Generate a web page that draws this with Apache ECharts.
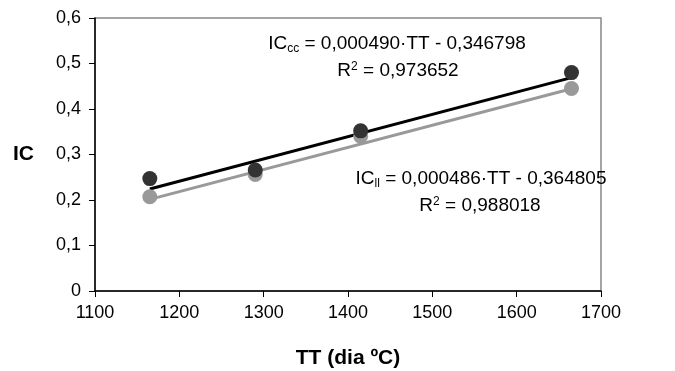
<!DOCTYPE html>
<html>
<head>
<meta charset="utf-8">
<script src="https://cdn.jsdelivr.net/npm/echarts@6/dist/echarts.min.js"></script>
<style>
  html, body { margin: 0; padding: 0; background: #fff; }
  #chart { width: 675px; height: 371px; }
</style>
</head>
<body>
<div id="chart"></div>
<script>
// measured points (TT in dia ºC, IC)
const ttValues = [1165, 1290, 1415, 1665];
const icCC = [0.247, 0.266, 0.352, 0.480];
const icLL = [0.207, 0.256, 0.340, 0.445];

// trend line coefficients as printed on the chart
const fitCC = { slope: 0.000490, intercept: -0.346798, r2: '0,973652' };
const fitLL = { slope: 0.000486, intercept: -0.364805, r2: '0,988018' };

const xTicks = { min: 1100, max: 1700, step: 100 };
const yTicks = { min: 0, max: 0.6, step: 0.1 };

const font = 'Liberation Sans, Arial, sans-serif';

function trend(fit) {
  const x0 = Math.min(...ttValues), x1 = Math.max(...ttValues);
  return [[x0, fit.slope * x0 + fit.intercept], [x1, fit.slope * x1 + fit.intercept]];
}

const chart = echarts.init(document.getElementById('chart'));

const eqRich = {
  n: { fontSize: 19, fontFamily: font, color: '#000' },
  sub: { fontSize: 12, fontFamily: font, color: '#000', padding: [10, 0, 0, 0] },
  sup: { fontSize: 12, fontFamily: font, color: '#000', padding: [0, 0, 9, 0] }
};

chart.setOption({
  animation: false,
  grid: {
    left: 95, right: 74, top: 18, bottom: 80, outerBoundsMode: 'none', containLabel: false,
    show: true, borderColor: '#888', borderWidth: 1.5
  },
  xAxis: {
    type: 'value', min: xTicks.min, max: xTicks.max, interval: xTicks.step,
    name: 'TT (dia ºC)', nameLocation: 'middle', nameGap: 57,
    nameTextStyle: { fontSize: 21, fontWeight: 'bold', fontFamily: font, color: '#000' },
    axisLine: { lineStyle: { color: '#000', width: 1.5 } },
    axisTick: { show: true, length: 6, lineStyle: { color: '#000' } },
    axisLabel: { fontSize: 18, fontFamily: font, color: '#000', margin: 13, formatter: v => String(v) },
    splitLine: { show: false }
  },
  yAxis: {
    type: 'value', min: yTicks.min, max: yTicks.max, interval: yTicks.step,
    name: 'IC', nameLocation: 'middle', nameGap: 61, nameRotate: 0,
    nameTextStyle: { fontSize: 21, fontWeight: 'bold', fontFamily: font, color: '#000' },
    axisLine: { show: true, lineStyle: { color: '#000', width: 1.5 } },
    axisTick: { show: true, length: 6, lineStyle: { color: '#000' } },
    axisLabel: {
      fontSize: 18, fontFamily: font, color: '#000', margin: 14,
      formatter: v => v === 0 ? '0' : v.toFixed(1).replace('.', ',')
    },
    splitLine: { show: false }
  },
  series: [
    {
      type: 'line', data: trend(fitCC), symbol: 'none',
      lineStyle: { color: '#000', width: 3 }, z: 3
    },
    {
      type: 'line', data: trend(fitLL), symbol: 'none',
      lineStyle: { color: '#999', width: 3 }, z: 3
    },
    {
      type: 'scatter', data: ttValues.map((t, i) => [t, icLL[i]]),
      symbolSize: 15, itemStyle: { color: '#999', opacity: 1 }, z: 4
    },
    {
      type: 'scatter', data: ttValues.map((t, i) => [t, icCC[i]]),
      symbolSize: 15, itemStyle: { color: '#333', opacity: 1 }, z: 5
    }
  ],
  graphic: [
    {
      type: 'text', x: 397, y: 44,
      style: {
        text: '{n|IC}{sub|cc}{n| = 0,000490·TT - 0,346798}',
        rich: eqRich, align: 'center', verticalAlign: 'middle'
      }
    },
    {
      type: 'text', x: 398, y: 71,
      style: {
        text: '{n|R}{sup|2}{n| = ' + fitCC.r2 + '}',
        rich: eqRich, align: 'center', verticalAlign: 'middle'
      }
    },
    {
      type: 'text', x: 481, y: 179,
      style: {
        text: '{n|IC}{sub|ll}{n| = 0,000486·TT - 0,364805}',
        rich: eqRich, align: 'center', verticalAlign: 'middle'
      }
    },
    {
      type: 'text', x: 480, y: 206,
      style: {
        text: '{n|R}{sup|2}{n| = ' + fitLL.r2 + '}',
        rich: eqRich, align: 'center', verticalAlign: 'middle'
      }
    }
  ]
});
</script>
</body>
</html>
